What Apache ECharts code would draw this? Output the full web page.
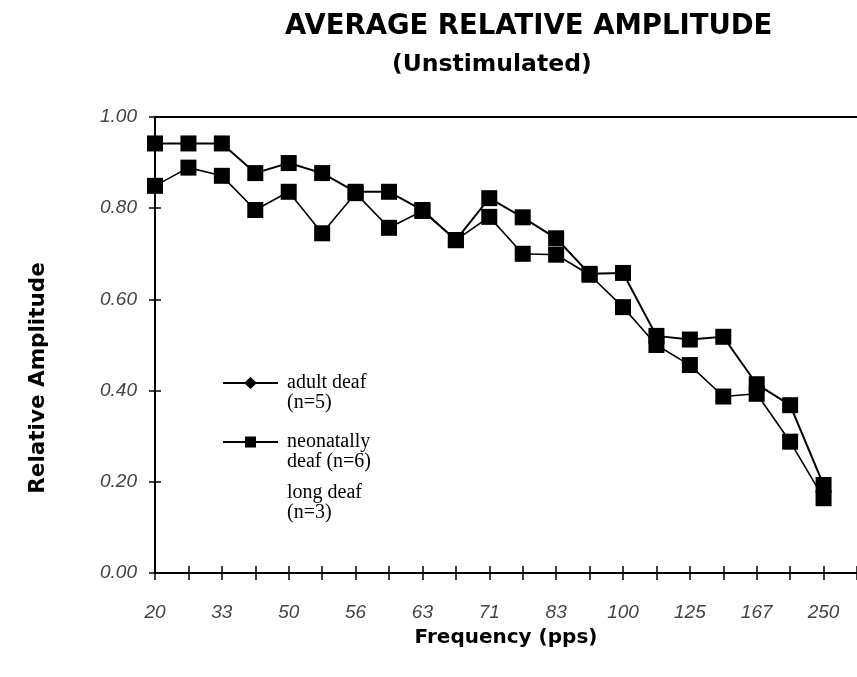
<!DOCTYPE html>
<html>
<head>
<meta charset="utf-8">
<script src="https://cdn.jsdelivr.net/npm/echarts@6/dist/echarts.min.js"></script>
<style>
  html, body { margin: 0; padding: 0; background: #fff; }
  #chart { width: 857px; height: 677px; }
</style>
</head>
<body>
<div id="chart"></div>
<script>
// Frequencies (pps) for each stimulus condition
const categories = ['20', '25', '33', '40', '50', '53', '56', '59', '63', '67', '71', '77', '83', '91', '100', '111', '125', '143', '167', '200', '250'];
// Average relative amplitude per group
const adultDeaf = [0.942, 0.942, 0.942, 0.877, 0.899, 0.877, 0.836, 0.836, 0.796, 0.730, 0.822, 0.780, 0.734, 0.656, 0.658, 0.520, 0.512, 0.518, 0.414, 0.368, 0.193];
const neonatallyDeaf = [0.849, 0.889, 0.871, 0.796, 0.836, 0.745, 0.833, 0.757, 0.794, 0.730, 0.781, 0.700, 0.698, 0.654, 0.583, 0.500, 0.456, 0.387, 0.393, 0.288, 0.164];
const longDeaf = [];
const yTicks = [0, 0.2, 0.4, 0.6, 0.8, 1.0];
const seriesNames = ['adult deaf\n(n=5)', 'neonatally\ndeaf (n=6)', 'long deaf\n(n=3)'];

const axisCats = categories.concat(['']);
const chart = echarts.init(document.getElementById('chart'));

const legendCommon = {
  orient: 'vertical',
  left: 223,
  padding: 0,
  itemWidth: 55,
  itemHeight: 12,
  selectedMode: false,
  formatter: function (n) { return '\n' + n; },
  textStyle: { fontFamily: 'Liberation Serif', fontSize: 20, lineHeight: 20, color: '#000', padding: [0, 0, 0, 4] }
};

const option = {
  backgroundColor: '#fff',
  animation: false,
  title: [
    { text: 'AVERAGE RELATIVE AMPLITUDE', left: 285, top: 13, padding: 0,
      textStyle: { fontFamily: 'DejaVu Sans', fontWeight: 'bold', fontSize: 27.5, color: '#000' } },
    { text: '(Unstimulated)', left: 392, top: 53, padding: 0,
      textStyle: { fontFamily: 'DejaVu Sans', fontWeight: 'bold', fontSize: 23.5, color: '#000' } }
  ],
  legend: [
    Object.assign({}, legendCommon, { top: 353, data: [{ name: seriesNames[0],
      icon: 'path://M0,5 L55,5 L55,7 L0,7 Z M21,6 L27.5,0 L34,6 L27.5,12 Z' }] }),
    Object.assign({}, legendCommon, { top: 412, data: [{ name: seriesNames[1],
      icon: 'path://M0,5 L55,5 L55,7 L0,7 Z M22,0.5 L33,0.5 L33,11.5 L22,11.5 Z' }] }),
    Object.assign({}, legendCommon, { top: 463, data: [{ name: seriesNames[2], icon: 'rect',
      itemStyle: { color: 'rgba(0,0,0,0)', opacity: 0, borderWidth: 0 } }] })
  ],
  grid: { left: 155, right: 0, top: 117, bottom: 104, containLabel: false },
  xAxis: [
    {
      type: 'category', data: axisCats, boundaryGap: false, position: 'bottom',
      name: 'Frequency (pps)', nameLocation: 'middle', nameGap: 55,
      nameTextStyle: { fontFamily: 'DejaVu Sans', fontWeight: 'bold', fontSize: 20, color: '#000' },
      axisLine: { lineStyle: { color: '#000', width: 2 } },
      axisTick: { show: true, inside: false, length: 7, interval: 0, lineStyle: { color: '#000', width: 1.5 } },
      axisLabel: { interval: 1, margin: 30, fontFamily: 'Liberation Sans', fontStyle: 'italic', fontSize: 19, color: '#444' },
      splitLine: { show: false }
    },
    {
      type: 'category', data: axisCats, boundaryGap: false, position: 'bottom',
      axisLine: { show: false },
      axisTick: { show: true, inside: true, length: 7, interval: 0, lineStyle: { color: '#000', width: 1.5 } },
      axisLabel: { show: false },
      splitLine: { show: false }
    },
    {
      type: 'category', data: axisCats, boundaryGap: false, position: 'top',
      axisLine: { lineStyle: { color: '#000', width: 2 } },
      axisTick: { show: false },
      axisLabel: { show: false },
      splitLine: { show: false }
    }
  ],
  yAxis: [
    {
      type: 'value', min: yTicks[0], max: yTicks[yTicks.length - 1], interval: 0.2, position: 'left',
      name: 'Relative Amplitude', nameLocation: 'middle', nameGap: 106, nameRotate: 90,
      nameTextStyle: { fontFamily: 'DejaVu Sans', fontWeight: 'bold', fontSize: 21.5, color: '#000', padding: [0, 66, 0, 0] },
      axisLine: { show: true, lineStyle: { color: '#000', width: 2 } },
      axisTick: { show: true, inside: false, length: 6, lineStyle: { color: '#000', width: 1.5 } },
      axisLabel: { margin: 18, fontFamily: 'Liberation Sans', fontStyle: 'italic', fontSize: 19, color: '#444',
        formatter: function (v) { return v.toFixed(2); } },
      splitLine: { show: false }
    },
    {
      type: 'value', min: yTicks[0], max: yTicks[yTicks.length - 1], interval: 0.2, position: 'left',
      axisLine: { show: false },
      axisTick: { show: true, inside: true, length: 6, lineStyle: { color: '#000', width: 1.5 } },
      axisLabel: { show: false },
      splitLine: { show: false }
    }
  ],
  series: [
    {
      name: seriesNames[0], type: 'line', data: adultDeaf, xAxisIndex: 0, yAxisIndex: 0,
      symbol: 'rect', symbolSize: 16, showAllSymbol: true,
      itemStyle: { color: '#000' }, lineStyle: { color: '#000', width: 2 }
    },
    {
      name: seriesNames[1], type: 'line', data: neonatallyDeaf, xAxisIndex: 0, yAxisIndex: 0,
      symbol: 'rect', symbolSize: 16, showAllSymbol: true,
      itemStyle: { color: '#000' }, lineStyle: { color: '#000', width: 1.6 }
    },
    {
      name: seriesNames[2], type: 'line', data: longDeaf, xAxisIndex: 0, yAxisIndex: 0,
      symbol: 'none', itemStyle: { color: '#000' }, lineStyle: { color: '#000', width: 1.5 }
    }
  ]
};
chart.setOption(option);
</script>
</body>
</html>
